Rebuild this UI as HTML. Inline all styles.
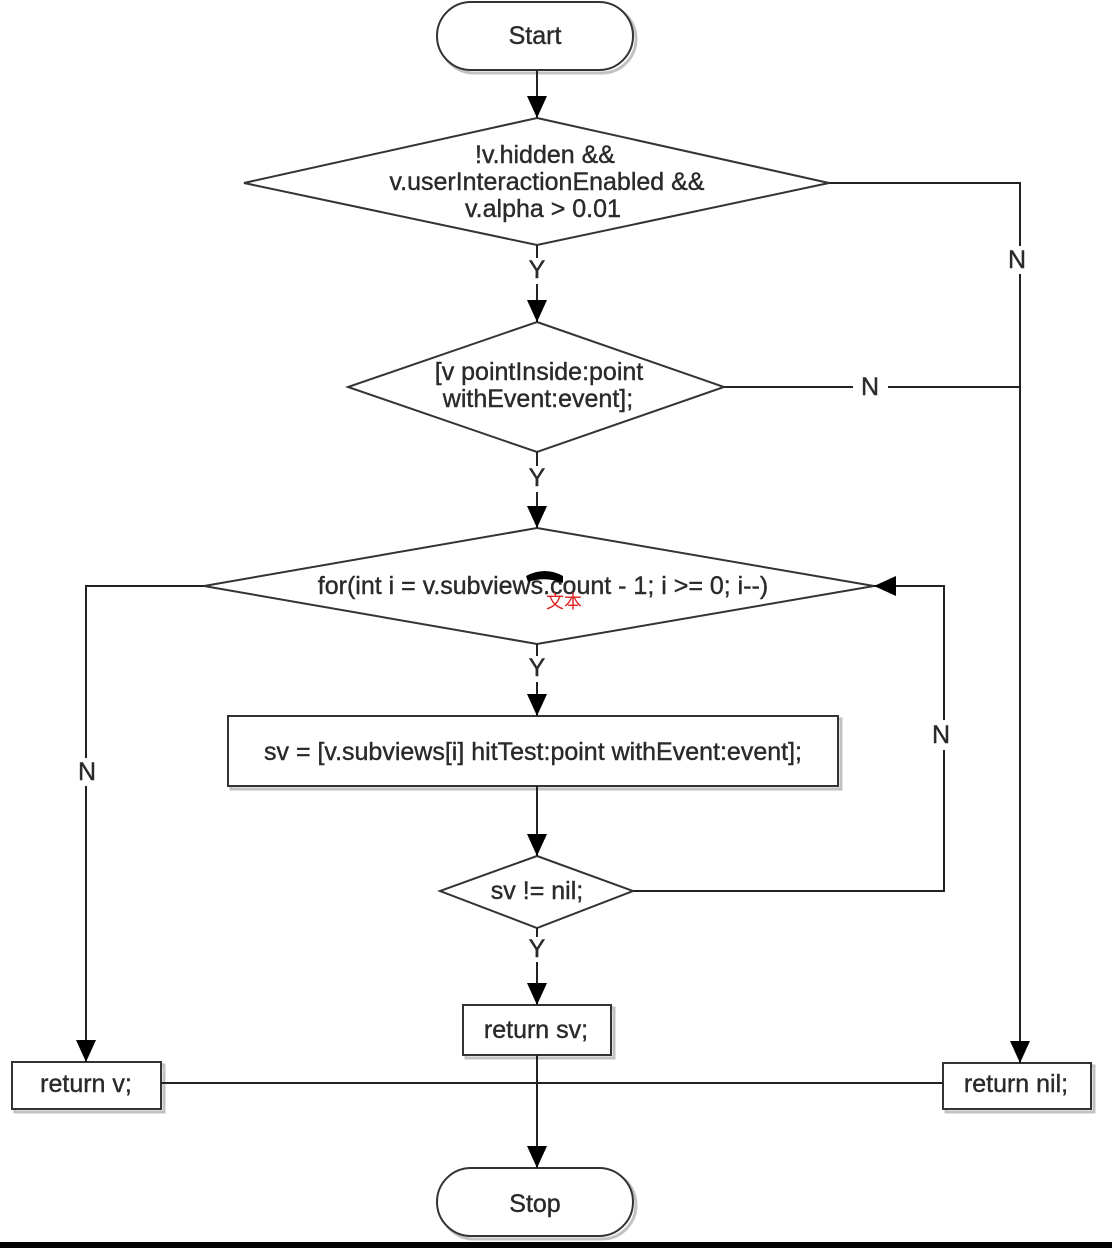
<!DOCTYPE html>
<html><head><meta charset="utf-8"><style>
html,body{margin:0;padding:0;background:#fff;}
svg{display:block;}
text{font-family:"Liberation Sans","Noto Sans CJK SC",sans-serif;fill:#2a2a2a;}
</style></head><body>
<svg width="1112" height="1248" viewBox="0 0 1112 1248" xmlns="http://www.w3.org/2000/svg">
<defs>
<marker id="b" markerWidth="24" markerHeight="24" refX="22" refY="12" orient="auto" markerUnits="userSpaceOnUse">
<path d="M0,2 L22,12 L0,22 z" fill="#000"/></marker>
</defs>
<rect width="1112" height="1248" fill="#fff"/>
<g fill="none" stroke="#999" stroke-width="3" opacity="0.6">
<rect x="440" y="5" width="196" height="68" rx="34"/>
<rect x="440" y="1171" width="196" height="68" rx="34"/>
<rect x="231" y="719" width="610" height="70"/>
<rect x="466" y="1008" width="148" height="50"/>
<rect x="15" y="1065" width="149" height="47"/>
<rect x="946" y="1066" width="148" height="46"/>
</g>
<g fill="#fff" stroke="#333" stroke-width="2">
<rect x="437" y="2" width="196" height="68" rx="34"/>
<rect x="437" y="1168" width="196" height="68" rx="34"/>
<polygon points="537,118 829,183 537,245 244,183"/>
<polygon points="537,322 724,387 537,452 348,387"/>
<polygon points="537,528 874,586 537,644 204,586"/>
<polygon points="537,856 633,891 537,928 440,891"/>
<rect x="228" y="716" width="610" height="70"/>
<rect x="463" y="1005" width="148" height="50"/>
<rect x="12" y="1062" width="149" height="47"/>
<rect x="943" y="1063" width="148" height="46"/>
</g>
<g stroke="#222" stroke-width="2" fill="none">
<line x1="537" y1="70" x2="537" y2="118" marker-end="url(#b)"/>
<line x1="537" y1="245" x2="537" y2="258"/>
<line x1="537" y1="284" x2="537" y2="322" marker-end="url(#b)"/>
<line x1="537" y1="452" x2="537" y2="466"/>
<line x1="537" y1="492" x2="537" y2="528" marker-end="url(#b)"/>
<line x1="537" y1="644" x2="537" y2="656"/>
<line x1="537" y1="682" x2="537" y2="716" marker-end="url(#b)"/>
<line x1="537" y1="786" x2="537" y2="856" marker-end="url(#b)"/>
<line x1="537" y1="928" x2="537" y2="937"/>
<line x1="537" y1="962" x2="537" y2="1005" marker-end="url(#b)"/>
<line x1="537" y1="1055" x2="537" y2="1168" marker-end="url(#b)"/>
<polyline points="829,183 1020,183 1020,246"/>
<line x1="1020" y1="274" x2="1020" y2="1063" marker-end="url(#b)"/>
<line x1="724" y1="387" x2="853" y2="387"/>
<line x1="888" y1="387" x2="1020" y2="387"/>
<polyline points="204,586 86,586 86,758"/>
<line x1="86" y1="786" x2="86" y2="1062" marker-end="url(#b)"/>
<polyline points="633,891 944,891 944,750"/>
<polyline points="944,720 944,586 874,586" marker-end="url(#b)"/>
<line x1="161" y1="1083" x2="943" y2="1083"/>
</g>
<g font-size="25" text-anchor="middle" stroke="#2a2a2a" stroke-width="0.4">
<text x="535" y="44">Start</text>
<text x="535" y="1212">Stop</text>
<text x="545" y="163">!v.hidden &amp;&amp;</text>
<text x="547" y="190">v.userInteractionEnabled &amp;&amp;</text>
<text x="543" y="217">v.alpha &gt; 0.01</text>
<text x="539" y="380">[v pointInside:point</text>
<text x="538" y="407">withEvent:event];</text>
<text x="543" y="594">for(int i = v.subviews.count - 1; i &gt;= 0; i--)</text>
<text x="533" y="760">sv = [v.subviews[i] hitTest:point withEvent:event];</text>
<text x="537" y="899">sv != nil;</text>
<text x="536" y="1038">return sv;</text>
<text x="86" y="1092">return v;</text>
<text x="1016" y="1092">return nil;</text>
<text x="537" y="278">Y</text>
<text x="537" y="486">Y</text>
<text x="537" y="676">Y</text>
<text x="537" y="957">Y</text>
<text x="1017" y="268">N</text>
<text x="870" y="395">N</text>
<text x="87" y="780">N</text>
<text x="941" y="743">N</text>
</g>
<path d="M526,576 Q545,566 563,576 L563,583 Q545,576 528,582 z" fill="#000"/>
<text x="564" y="608" font-size="18" style="fill:#e02020" text-anchor="middle">文本</text>
<rect x="0" y="1242" width="1112" height="6" fill="#000"/>
</svg>
</body></html>
